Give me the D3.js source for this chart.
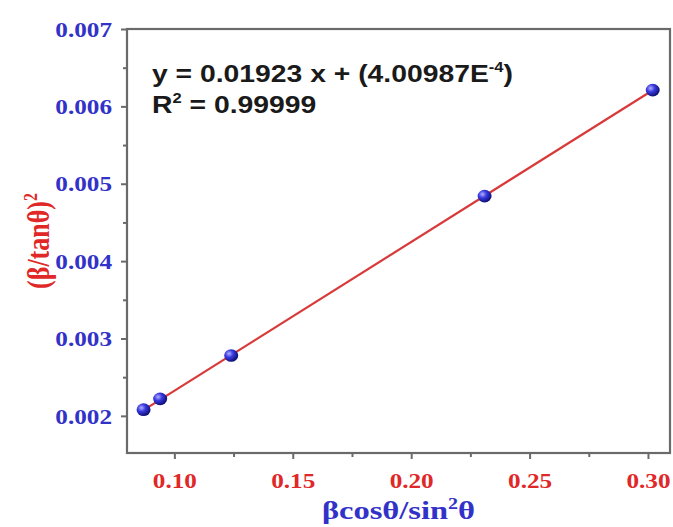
<!DOCTYPE html>
<html>
<head>
<meta charset="utf-8">
<script src="https://cdn.jsdelivr.net/npm/d3@7"></script>
<style>
  body { margin: 0; background: #fff; }
  .tick-label { font-family: "Liberation Serif", "Times New Roman", serif; font-weight: bold; font-size: 21px; }
  .axis-title { font-family: "Liberation Serif", "Times New Roman", serif; font-weight: bold; font-size: 26px; }
  .fit-text { font-family: "Liberation Sans", Arial, sans-serif; font-weight: bold; font-size: 24px; fill: #1a1a1a; }
</style>
</head>
<body>
<svg id="chart"></svg>
<script>
// Williamson-Hall style points
const xValues = [0.087, 0.094, 0.124, 0.231, 0.302];
const yValues = [0.00208, 0.00222, 0.00278, 0.00484, 0.00621];

const slope = 0.01923;
const intercept = 4.00987e-4;

const xTicks = [0.10, 0.15, 0.20, 0.25, 0.30];
const yTicks = [0.002, 0.003, 0.004, 0.005, 0.006, 0.007];

const blue = '#3232c8';
const red = '#e02828';
const frameColor = '#6a6a6a';
// the original picture is a bit wider than tall, text looks stretched sideways
const stretch = 1.2;

const width = 673, height = 527;
const margin = {top: 29, right: 3, bottom: 74, left: 127};
const innerW = width - margin.left - margin.right;
const innerH = height - margin.top - margin.bottom;

const svg = d3.select('#chart')
    .attr('width', width)
    .attr('height', height);

const defs = svg.append('defs');
const grad = defs.append('radialGradient')
    .attr('id', 'ball')
    .attr('cx', '35%').attr('cy', '35%').attr('r', '65%');
grad.append('stop').attr('offset', '0%').attr('stop-color', '#b0b0ff');
grad.append('stop').attr('offset', '45%').attr('stop-color', '#3a3ae0');
grad.append('stop').attr('offset', '100%').attr('stop-color', '#10107a');

const chart = svg.append('g')
    .attr('transform', `translate(${margin.left},${margin.top})`);

const xScale = d3.scaleLinear().domain([0.08, 0.3093]).range([0, innerW]);
const yScale = d3.scaleLinear().domain([0.00152, 0.007]).range([innerH, 0]);

// minor ticks at the halfway points
const xMinor = d3.range(0.125, 0.31, 0.05);
const yMinor = d3.range(0.0025, 0.007, 0.001);

const xAxis = d3.axisBottom(xScale).tickValues(xTicks).tickSizeOuter(0).tickSize(6).tickFormat(d3.format('.2f'));
const yAxis = d3.axisLeft(yScale).tickValues(yTicks).tickSizeOuter(0).tickSize(6).tickFormat(d3.format('.3f'));

const xAxisG = chart.append('g')
    .attr('transform', `translate(0,${innerH})`)
    .call(xAxis);
const yAxisG = chart.append('g').call(yAxis);

chart.append('g')
    .attr('transform', `translate(0,${innerH})`)
    .call(d3.axisBottom(xScale).tickValues(xMinor).tickSize(4).tickFormat('').tickSizeOuter(0));
chart.append('g')
    .call(d3.axisLeft(yScale).tickValues(yMinor).tickSize(4).tickFormat('').tickSizeOuter(0));

chart.selectAll('.domain').remove();
chart.selectAll('.tick line').attr('stroke', frameColor).attr('stroke-width', 2);

xAxisG.selectAll('text')
    .attr('class', 'tick-label')
    .attr('fill', red)
    .attr('dy', '1.25em')
    .attr('transform', `scale(${stretch},1)`);
yAxisG.selectAll('text')
    .attr('class', 'tick-label')
    .attr('fill', blue)
    .attr('x', -12.5)
    .attr('dy', '0.34em')
    .attr('transform', `scale(${stretch},1)`);

// frame
chart.append('rect')
    .attr('x', 0).attr('y', 0)
    .attr('width', innerW).attr('height', innerH)
    .attr('fill', 'none')
    .attr('stroke', frameColor)
    .attr('stroke-width', 2.2);

// fitted line
const x0 = d3.min(xValues), x1 = d3.max(xValues);
chart.append('line')
    .attr('x1', xScale(x0)).attr('y1', yScale(slope * x0 + intercept))
    .attr('x2', xScale(x1)).attr('y2', yScale(slope * x1 + intercept))
    .attr('stroke', '#d83a3a')
    .attr('stroke-width', 2.2);

// points
chart.selectAll('.pt')
    .data(xValues.map((x, i) => ({x, y: yValues[i]})))
  .join('ellipse')
    .attr('class', 'pt')
    .attr('cx', d => xScale(d.x))
    .attr('cy', d => yScale(d.y))
    .attr('rx', 7)
    .attr('ry', 6.3)
    .attr('fill', 'url(#ball)');

// equation text
const eq = svg.append('text')
    .attr('class', 'fit-text')
    .attr('transform', `translate(152,82) scale(${stretch - 0.02},1)`);
eq.append('tspan').text('y = 0.01923 x + (4.00987E');
eq.append('tspan').attr('font-size', '14px').attr('dy', -10).text('-4');
eq.append('tspan').attr('dy', 10).text(')');

const r2 = svg.append('text')
    .attr('class', 'fit-text')
    .attr('transform', `translate(152,113) scale(${stretch - 0.02},1)`);
r2.append('tspan').text('R');
r2.append('tspan').attr('font-size', '14px').attr('dy', -10).text('2');
r2.append('tspan').attr('dy', 10).text(' = 0.99999');

// axis titles
const xt = svg.append('text')
    .attr('class', 'axis-title')
    .attr('fill', blue)
    .attr('text-anchor', 'middle')
    .attr('transform', `translate(${margin.left + innerW / 2},519) scale(1.25,1)`);
xt.append('tspan').text('βcosθ/sin');
xt.append('tspan').attr('font-size', '16px').attr('dy', -10).text('2');
xt.append('tspan').attr('dy', 10).text('θ');

const yt = svg.append('text')
    .attr('class', 'axis-title')
    .attr('fill', red)
    .attr('text-anchor', 'middle')
    .attr('transform', `translate(49,${margin.top + innerH / 2}) scale(${stretch},1) rotate(-90)`);
yt.append('tspan').text('(β/tanθ)');
yt.append('tspan').attr('font-size', '16px').attr('dy', -10).text('2');
</script>
</body>
</html>
